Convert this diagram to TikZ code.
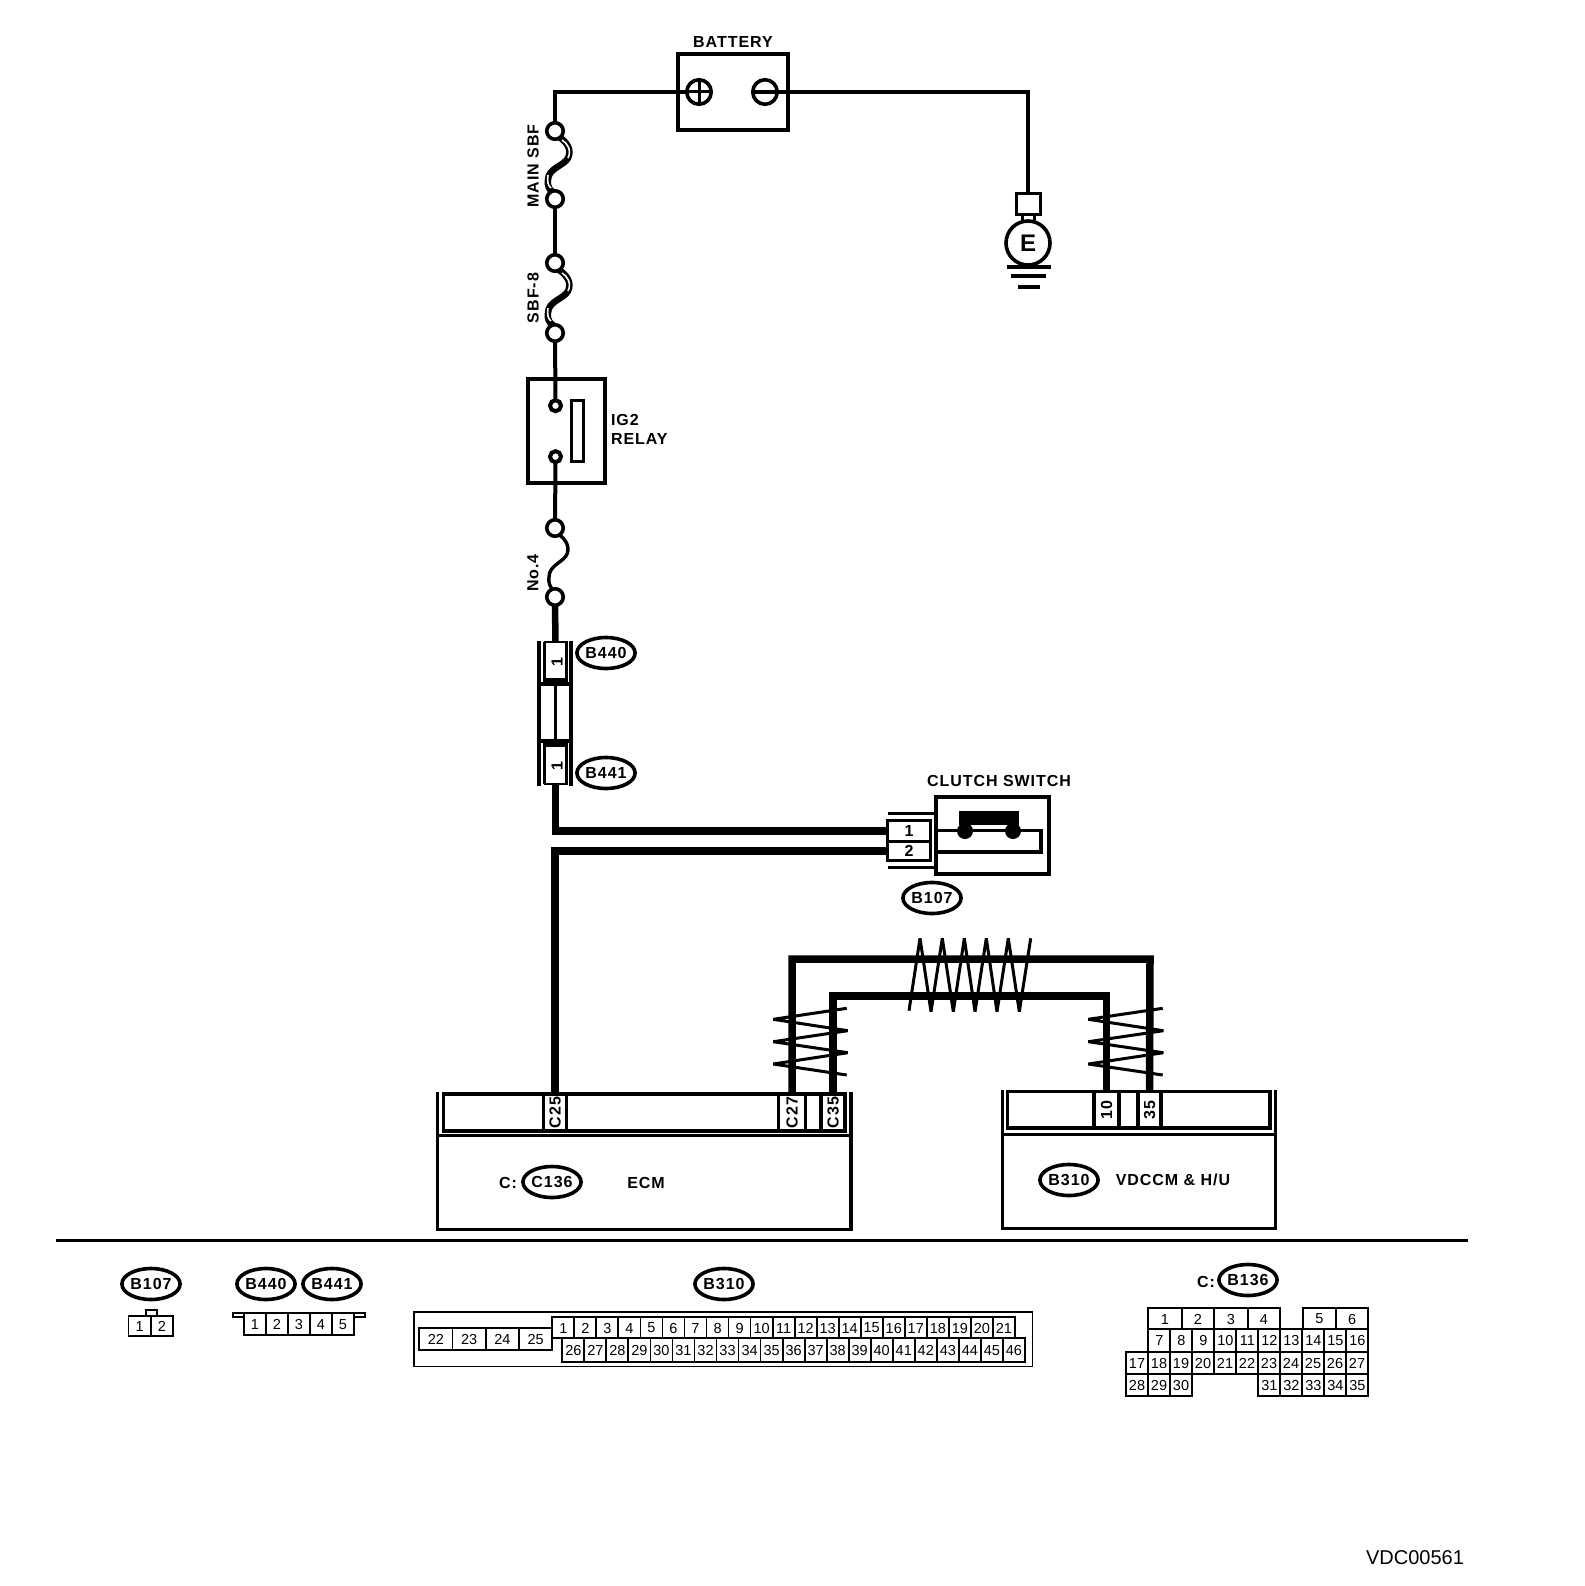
\documentclass[tikz,border=0pt]{standalone}
\usepackage{fontspec}
\usetikzlibrary{shapes.geometric}
\setmainfont{Liberation Sans}
\newfontfamily\lbl{Liberation Sans}[LetterSpace=6]
\newcommand{\lblfont}{\lbl\bfseries\fontsize{16}{18}\selectfont}
\newcommand{\cellfont}{\fontsize{14.5}{16}\selectfont}
\tikzset{
  every node/.style={inner sep=0pt,outer sep=0pt},
  thinwire/.style={line width=4pt},
  fatwire/.style={line width=7.5pt},
  term/.style={circle,draw,fill=white,line width=3.6pt,minimum size=16.5pt},
  smallterm/.style={circle,draw,fill=white,line width=4pt,minimum size=11pt},
  tag/.style={ellipse,draw,fill=white,line width=3.6pt,minimum width=54pt,minimum height=31pt,font=\lblfont},
  caption/.style={font=\lblfont,fill=none},
  pinbox/.style={draw,fill=white,line width=3.2pt,minimum height=37pt,font=\lblfont},
  twist/.style={line width=3pt,line join=bevel},
  cellbox/.style={draw,line width=1.8pt},
  cellnum/.style={font=\cellfont},
  fusepath/.pic={
    \draw[line width=6.5pt,line cap=round] (4,6) .. controls (12,11) and (17,19) .. (13,27) .. controls (9,35) and (-7,37) .. (-7,49) .. controls (-8,54) and (-6,59) .. (-2,61);
    \draw[white,line width=1.6pt] (7,9) .. controls (12,12) and (17,19) .. (13,27);
    \draw[white,line width=1.6pt] (-7,44) .. controls (-8,50) and (-7,55) .. (-4,57);
  },
  thinfuse/.pic={
    \draw[line width=3.4pt] (3,6) .. controls (11,11) and (15,19) .. (12,26) .. controls (9,34) and (-6,37) .. (-6,49) .. controls (-7,54) and (-5,59) .. (-2,62);
  }
}
\newcommand{\cell}[5]{% x1 y1 x2 y2 text
  \draw[cellbox] (#1,#2) rectangle (#3,#4);
  \node[cellnum] at ({(#1+#3)/2},{(#2+#4)/2+0.5}) {#5};
}
\begin{document}
\begin{tikzpicture}[x=1pt,y=-1pt]
\useasboundingbox (0,0) rectangle (1584,1586);
\fill[white] (0,0) rectangle (1584,1586);

% ---- battery
\draw[line width=4pt] (677.5,54.5) rectangle (788,130.5);
\node[caption] (batlabel) at (733,42) {BATTERY};
\node[circle,draw,fill=white,line width=3.6pt,minimum size=24.5pt] (bplus) at (699,92) {};
\node[circle,draw,fill=white,line width=3.6pt,minimum size=24.5pt] (bminus) at (765,92) {};
\draw[line width=3pt] (bplus.north) -- (bplus.south);
\draw[line width=3pt] (bplus.west) -- (bplus.east);
\draw[line width=4.6pt] (bminus.west) -- (bminus.east);

% ---- fuses
\path (555,131) pic {fusepath};
\path (555,264) pic {fusepath};
\path (555,528) pic {thinfuse};
\node[term] (f1a) at (555,131) {};
\node[term] (f1b) at (555,199) {};
\node[term] (f2a) at (555,263) {};
\node[term] (f2b) at (555,333) {};
\node[term] (f3a) at (555,528) {};
\node[term] (f3b) at (555,597) {};
\node[caption,rotate=90] (mainlabel) at (533,166) {MAIN SBF};
\node[caption,rotate=90] (sbflabel) at (533,298) {SBF-8};
\node[caption,rotate=90] (nolabel) at (533,573) {No.4};

% ---- relay
\draw[line width=4pt] (528,379) rectangle (605,483);
\node[smallterm] (r1) at (555.5,405.7) {};
\node[smallterm] (r2) at (555.5,456.7) {};
\draw[line width=3.6pt] (571.5,400.5) rectangle (583.5,461.5);
\node[caption,anchor=west] (ig2) at (611,420) {IG2};
\node[caption,anchor=west] (relay) at (611,439) {RELAY};

% ---- thin wires
\draw[thinwire] (f1a.north) |- (bplus.west);
\draw[thinwire] (bminus.east) -| (1028,192);
\draw[thinwire] (f1b) -- (f2a);
\draw[thinwire] (f2b) -- (r1);
\draw[thinwire] (r2) -- (f3a);

% ---- earth
\node[draw,fill=white,line width=3.6pt,minimum width=24pt,minimum height=21pt] (ebox) at (1028.5,204) {};
\node[circle,draw,fill=white,line width=3.6pt,minimum size=44pt,font=\bfseries\fontsize{24}{26}\selectfont] (ecirc) at (1028,243) {E};
\draw[line width=3pt] (1022,215) -- (1022,223);
\draw[line width=3pt] (1034,215) -- (1034,223);
\draw[line width=4pt] (1007,267) -- (1051,267);
\draw[line width=4pt] (1011,276) -- (1046,276);
\draw[line width=4pt] (1018,287) -- (1040,287);

% ---- inline connector B440 / B441
\draw[line width=4pt] (539,641) -- (539,786);
\draw[line width=4pt] (571,641) -- (571,786);
\draw[line width=3.6pt] (541,684) -- (569,684);
\draw[line width=3.6pt] (541,741) -- (569,741);
\node[draw,fill=white,line width=2pt,minimum width=22pt,minimum height=38pt] (c440) at (555.5,661) {};
\draw[line width=3.6pt] (c440.north west) -- (c440.south west) -- (c440.south east) -- (c440.north east);
\node[font=\lblfont,rotate=90] at (557,662) {1};
\node[draw,fill=white,line width=2pt,minimum width=22pt,minimum height=39pt] (c441) at (555.5,764.5) {};
\draw[line width=3.6pt] (c441.south west) -- (c441.north west) -- (c441.north east) -- (c441.south east);
\node[font=\lblfont,rotate=90] at (557,766) {1};
\draw[line width=3pt] (c440.south) -- (c441.north);
\draw[line width=6.5pt] (f3b.south) -- (c440.north);
\node[tag] (t440) at (606,653) {B440};
\node[tag] (t441) at (606,773) {B441};

% ---- clutch switch
\draw[line width=3.6pt] (936,797) rectangle (1049,874);
\node[caption] (cslabel) at (999,781) {CLUTCH SWITCH};
\draw[line width=3pt] (888,813) -- (934,813);
\draw[line width=3pt] (888,867) -- (934,867);
\node[draw,fill=white,line width=3.4pt,minimum width=43pt,minimum height=21pt,font=\lblfont] (p1) at (909,831) {1};
\node[draw,fill=white,line width=3.4pt,minimum width=43pt,minimum height=19pt,font=\lblfont] (p2) at (909,851) {2};
\draw[line width=3.2pt] (936,830.5) -- (1041,830.5) -- (1041,852) -- (936,852);
\node[circle,fill,minimum size=16pt] (k1) at (965,831) {};
\node[circle,fill,minimum size=16pt] (k2) at (1013,831) {};
\fill (959,811) rectangle (1019,824.5);
\node[tag] (t107) at (932,898) {B107};

% ---- ECM
\draw[line width=3.4pt] (437.5,1135.5) rectangle (851,1229.5);
\draw[line width=3.4pt] (437.5,1092) -- (437.5,1135.5);
\draw[line width=3.4pt] (851,1092) -- (851,1135.5);
\draw[line width=3.6pt] (443.5,1094) rectangle (844.5,1131);
\node[pinbox,rotate=90,minimum width=37pt,minimum height=23pt] (c25) at (555,1112.5) {C25};
\node[pinbox,rotate=90,minimum width=37pt,minimum height=27pt] (c27) at (792,1112.5) {C27};
\node[pinbox,rotate=90,minimum width=37pt,minimum height=24pt] (c35) at (833,1112.5) {C35};
\node[tag] (t136a) at (552,1182) {C136};
\node[caption] (clabel) at (508,1183) {C:};
\node[caption] (ecm) at (646,1183) {ECM};

% ---- VDCCM
\draw[line width=3.4pt] (1002.5,1134.5) rectangle (1275.5,1228.5);
\draw[line width=3.4pt] (1002.5,1090) -- (1002.5,1134.5);
\draw[line width=3.4pt] (1275.5,1090) -- (1275.5,1134.5);
\draw[line width=3.6pt] (1007.5,1091.5) rectangle (1270,1128);
\node[pinbox,rotate=90,minimum width=36.5pt,minimum height=25pt] (v10) at (1106.5,1109.8) {10};
\node[pinbox,rotate=90,minimum width=36.5pt,minimum height=23pt] (v35) at (1149.5,1109.8) {35};
\node[tag] (t310) at (1069,1180) {B310};
\node[caption] (vdc) at (1173,1180) {VDCCM \& H/U};

% ---- harness wires
\draw[fatwire] (p1.west) -| (c441.south);
\draw[fatwire] (p2.west) -| (c25.east);
\draw[fatwire] (c27.east) |- (955,959) -- (1150,959) -- (v35.east);
\draw[fatwire] (c35.east) |- (955,996) -- (1106.5,996) -- (v10.east);

% ---- twists
\draw[twist] (909,1010.7) -- (920,938.3) -- (931,1011.7) -- (942.3,938.3) -- (953.3,1011.7) -- (964.3,938.3) -- (975,1011.7) -- (986.3,938.3) -- (997,1011.7) -- (1008.3,938.3) -- (1019.3,1011.7) -- (1030.7,938.3);
\draw[twist] (846.7,1008.3) -- (773.3,1019.3) -- (847.7,1030.7) -- (773.3,1041.7) -- (847.7,1052.7) -- (773.3,1064) -- (846.7,1075);
\draw[twist] (1162.7,1008.3) -- (1088.3,1019.3) -- (1163.3,1030.7) -- (1088.3,1041.7) -- (1163.3,1052.7) -- (1088.3,1064) -- (1162.7,1075);

% ---- divider
\draw[line width=3.6pt] (56,1240.5) -- (1468,1240.5);

% ---- legend B107
\node[tag] (l107) at (151,1284) {B107};
\draw[cellbox] (146,1310) rectangle (157,1316);
\cell{128.5}{1316}{151}{1336}{1}
\cell{151}{1316}{173}{1336}{2}

% ---- legend B440 B441
\node[tag] (l440) at (266,1284) {B440};
\node[tag] (l441) at (332,1284) {B441};
\draw[cellbox] (244,1317) -- (233,1317) -- (233,1313) -- (365,1313) -- (365,1317) -- (354,1317);
\foreach \n [count=\i from 0] in {1,2,3,4,5}
  { \cell{244+22*\i}{1313}{266+22*\i}{1335}{\n} }

% ---- legend B310
\node[tag] (l310) at (724,1284) {B310};
\draw[cellbox] (414.3,1312) rectangle (1032.5,1366.5);
\foreach \n [count=\i from 0] in {22,23,24,25}
  { \cell{419.3+33.25*\i}{1327.7}{452.55+33.25*\i}{1350}{\n} }
\foreach \n [count=\i from 0] in {1,...,21}
  { \cell{552.3+22.03*\i}{1316.7}{574.33+22.03*\i}{1338.3}{\n} }
\foreach \n [count=\i from 0] in {26,...,46}
  { \cell{562.3+22.03*\i}{1338.3}{584.33+22.03*\i}{1362}{\n} }

% ---- legend B136
\node[tag] (l136) at (1248,1280) {B136};
\node[caption] (lc) at (1206,1282) {C:};
\foreach \n/\a/\b in {1/1148.3/1181.7,2/1181.7/1214.3,3/1214.3/1247.7,4/1247.7/1280.3,5/1302.7/1336,6/1336/1368.3}
  { \cell{\a}{1308}{\b}{1329}{\n} }
\foreach \n [count=\i from 0] in {7,...,16}
  { \cell{1148.3+22*\i}{1329}{1170.3+22*\i}{1351.7}{\n} }
\foreach \n [count=\i from 0] in {17,...,27}
  { \cell{1126+22*\i}{1351.7}{1148+22*\i}{1374}{\n} }
\foreach \n [count=\i from 0] in {28,29,30}
  { \cell{1126+22*\i}{1374}{1148+22*\i}{1396}{\n} }
\foreach \n [count=\i from 0] in {31,...,35}
  { \cell{1258.3+22*\i}{1374}{1280.3+22*\i}{1396}{\n} }

% ---- figure number
\node[font=\fontsize{20}{22}\selectfont] (fig) at (1415,1558) {VDC00561};
\end{tikzpicture}
\end{document}
